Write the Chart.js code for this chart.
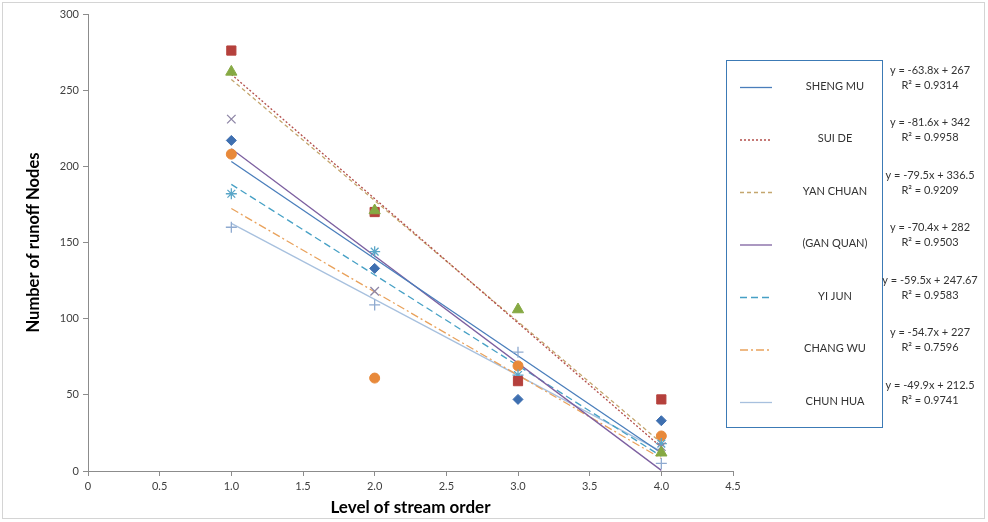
<!DOCTYPE html>
<html>
<head>
<meta charset="utf-8">
<script src="https://cdn.jsdelivr.net/npm/chart.js@4/dist/chart.umd.min.js"></script>
<style>
  body { margin: 0; background: #fff; }
  canvas { display: block; }
</style>
</head>
<body>
<canvas id="runoffNodes" width="988" height="522"></canvas>
<script>
const levels = [1, 2, 3, 4];
const seriesNames = ["SHENG MU", "SUI DE", "YAN CHUAN", "(GAN QUAN)", "YI JUN", "CHANG WU", "CHUN HUA"];
const shengMu = [217, 133, 47, 33];
const suiDe = [262, 171, 106, 12];
const yanChuan = [276, 170, 59, 47];
const ganQuan = [231, 118, 60, 16];
const yiJun = [182, 144, 63, 18];
const changWu = [208, 61, 69, 23];
const chunHua = [160, 109, 78, 5];
const slopes = [-63.8, -81.6, -79.5, -70.4, -59.5, -54.7, -49.9];
const intercepts = [267, 342, 336.5, 282, 247.67, 227, 212.5];
const rSquared = ["0.9314", "0.9958", "0.9209", "0.9503", "0.9583", "0.7596", "0.9741"];

const seriesValues = [shengMu, suiDe, yanChuan, ganQuan, yiJun, changWu, chunHua];
const markerStyles = ["rectRot", "triangle", "rect", "crossRot", "star", "circle", "cross"];
const markerSizes = [5, 6.5, 6.5, 6, 5.5, 5, 5.5];
const markerColors = ["#3e6fb0", "#86a943", "#b5403c", "#8e86a6", "#5aa6c8", "#e8893a", "#8faad0"];
const lineColors = ["#4a7ebb", "#b34d4a", "#c4a66e", "#7d60a0", "#46a0c5", "#e9a25c", "#a7c0de"];
const lineDashes = [[], [2, 2], [4, 3], [], [7, 4], [8, 3, 2, 3], []];

const font = "Lato, 'Liberation Sans', sans-serif";

const pointSets = seriesValues.map((vals, i) => ({
  label: seriesNames[i],
  data: vals.map((v, k) => ({ x: levels[k], y: v })),
  pointStyle: markerStyles[i],
  pointRadius: markerSizes[i],
  pointBackgroundColor: markerColors[i],
  pointBorderColor: markerColors[i],
  pointBorderWidth: markerStyles[i].startsWith("cross") || markerStyles[i] === "star" ? 1.3 : 1,
  showLine: false,
  order: 0,
}));

const trendSets = slopes.map((m, i) => {
  const x0 = levels[0];
  const x1 = levels[levels.length - 1];
  return {
    label: seriesNames[i] + " trend",
    data: [{ x: x0, y: m * x0 + intercepts[i] }, { x: x1, y: m * x1 + intercepts[i] }],
    showLine: true,
    borderColor: lineColors[i],
    borderWidth: 1.3,
    borderDash: lineDashes[i],
    pointRadius: 0,
    order: 1,
  };
});

const legendBox = {
  id: "legendBox",
  afterDraw(chart) {
    const ctx = chart.ctx;
    ctx.save();
    // outer frame
    ctx.strokeStyle = "#d4d4d4";
    ctx.lineWidth = 1;
    ctx.strokeRect(2.5, 2.5, 982, 516);
    // legend frame
    ctx.strokeStyle = "#3c7ab5";
    ctx.strokeRect(726.5, 60.5, 156, 367);
    seriesNames.forEach((name, i) => {
      const rowY = 86 + i * 52.5;
      ctx.strokeStyle = lineColors[i];
      ctx.lineWidth = 1.3;
      ctx.setLineDash(lineDashes[i]);
      ctx.beginPath();
      ctx.moveTo(740, rowY + 1.5);
      ctx.lineTo(772, rowY + 1.5);
      ctx.stroke();
      ctx.setLineDash([]);
      ctx.fillStyle = "#333";
      ctx.font = "11px " + font;
      ctx.textAlign = "center";
      ctx.textBaseline = "middle";
      ctx.fillText(name, 835, rowY);
      const sign = intercepts[i] < 0 ? "- " : "+ ";
      ctx.fillText("y = " + slopes[i] + "x " + sign + Math.abs(intercepts[i]), 930, rowY - 16);
      ctx.fillText("R\u00b2 = " + rSquared[i], 930, rowY - 1);
    });
    ctx.restore();
  },
};

new Chart(document.getElementById("runoffNodes"), {
  type: "scatter",
  data: { datasets: [...pointSets, ...trendSets] },
  plugins: [legendBox],
  options: {
    responsive: false,
    animation: false,
    layout: { padding: { left: 0, right: 255, top: 14, bottom: 0 } },
    plugins: { legend: { display: false }, tooltip: { enabled: false } },
    scales: {
      x: {
        type: "linear",
        min: 0,
        max: 4.5,
        ticks: { stepSize: 0.5, color: "#404040", font: { family: font, size: 11 }, padding: 4 },
        grid: { drawOnChartArea: false, drawTicks: true, tickLength: 5, color: "#8c8c8c" },
        border: { color: "#8c8c8c" },
        title: { display: true, text: "Level of stream order", color: "#000", font: { family: font, size: 17, weight: "bold" }, padding: { top: 2 } },
        afterFit: (s) => { s.height = 51; },
      },
      y: {
        min: 0,
        max: 300,
        ticks: { stepSize: 50, color: "#404040", font: { family: font, size: 11 }, padding: 4 },
        grid: { drawOnChartArea: false, drawTicks: true, tickLength: 5, color: "#8c8c8c" },
        border: { color: "#8c8c8c" },
        title: { display: true, text: "Number of runoff Nodes", color: "#000", font: { family: font, size: 16.5, weight: "bold" }, padding: { top: 24, bottom: 4 } },
        afterFit: (s) => { s.width = 88; },
      },
    },
  },
});
</script>
</body>
</html>
